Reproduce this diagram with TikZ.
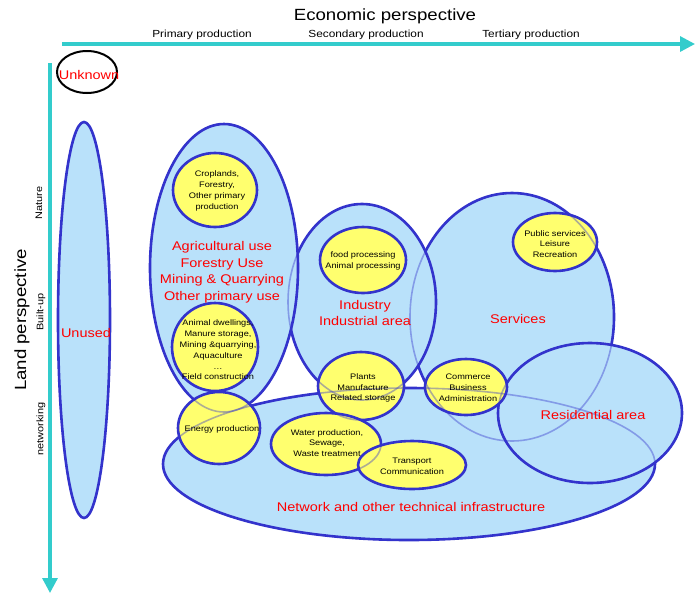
\documentclass[tikz,border=0pt]{standalone}
\usepackage{fontspec}
\setmainfont{Liberation Sans}[FakeStretch=1.15]
\usetikzlibrary{arrows.meta}

\definecolor{axisteal}{RGB}{51,204,204}
\definecolor{rimblue}{RGB}{51,51,204}
\definecolor{areablue}{RGB}{185,225,250}
\definecolor{partyellow}{RGB}{255,255,110}

\tikzset{
  zone/.style={fill=areablue, draw=rimblue, line width=2.6pt},
  part/.style={fill=partyellow, draw=rimblue, line width=2.6pt},
  ghost/.style={draw=rimblue, draw opacity=0.4, line width=1.6pt},
  axisline/.style={draw=axisteal, line width=3.2pt, -{Triangle[length=15pt, width=15pt]}},
  redtext/.style={text=red, align=center, inner sep=0pt, font=\fontsize{12.6}{16.5}\selectfont},
  small/.style={align=center, inner sep=0pt, font=\fontsize{8}{10.8}\selectfont},
  axislabel/.style={inner sep=0pt, font=\fontsize{10.3}{12}\selectfont},
  sidelabel/.style={inner sep=0pt, rotate=90, font=\fontsize{9.5}{11}\selectfont},
  bigtitle/.style={inner sep=0pt, font=\fontsize{16.2}{18}\selectfont},
}

% centre x / centre y / x radius / y radius (pixels of the sheet)
\def\zonelist{84/320/26/198, 512/317/102/124, 362/302/74/98, 224/268/74/144, 409/464/246/76, 590/413/92/70}
\def\partlist{215/190/42/37, 215/347/43/44, 219/428/41/36, 363/260/43/33, 361/386/43/34, 555/242/42/29, 466/387/41/28, 326/444/55/31, 412/465/54/24}

\begin{document}
\begin{tikzpicture}[x=1pt, y=-1pt]
  \useasboundingbox (0,0) rectangle (695,595);
  \fill[white] (0,0) rectangle (695,595);

  % axes
  \coordinate (econStart) at (62,44);
  \coordinate (econEnd) at (695,44);
  \coordinate (landStart) at (50,63);
  \coordinate (landEnd) at (50,593);
  \draw[axisline] (econStart) -- (econEnd);
  \draw[axisline] (landStart) -- (landEnd);

  % economic perspective
  \node[bigtitle] (econ) at (385,16) {Economic perspective};
  \node[axislabel] (primary) at (202,35) {Primary production};
  \node[axislabel] (secondary) at (366,35) {Secondary production};
  \node[axislabel] (tertiary) at (531,35) {Tertiary production};

  % land perspective
  \node[bigtitle, rotate=90] (land) at (22,320) {Land perspective};
  \node[sidelabel] (nature) at (39,203) {Nature};
  \node[sidelabel] (builtup) at (41,312) {Built-up};
  \node[sidelabel] (networking) at (41,429) {networking};

  % unknown
  \draw[black, line width=2pt] (87,72) ellipse (30pt and 21pt);
  \node[redtext] (unknown) at (89,75) {Unknown};

  % blue areas, then the yellow parts on top
  \foreach \cx/\cy/\rx/\ry in \zonelist
    \draw[zone] (\cx,\cy) ellipse (\rx pt and \ry pt);
  \foreach \cx/\cy/\rx/\ry in \partlist
    \draw[part] (\cx,\cy) ellipse (\rx pt and \ry pt);
  % borders seen through the fills
  \foreach \cx/\cy/\rx/\ry in \zonelist
    \draw[ghost] (\cx,\cy) ellipse (\rx pt and \ry pt);
  \foreach \cx/\cy/\rx/\ry in \partlist
    \draw[ghost] (\cx,\cy) ellipse (\rx pt and \ry pt);

  % area names
  \node[redtext] (unused) at (86,333) {Unused};
  \node[redtext] (agri) at (222,272) {Agricultural use\\Forestry Use\\Mining \& Quarrying\\Other primary use};
  \node[redtext] (industry) at (365,313) {Industry\\Industrial area};
  \node[redtext] (services) at (518,319) {Services};
  \node[redtext] (residential) at (593,415) {Residential area};
  \node[redtext] (network) at (411,507) {Network and other technical infrastructure};

  % part names
  \node[small] (croplands) at (217,191) {Croplands,\\Forestry,\\Other primary\\production};
  \node[small] (animal) at (218,350) {Animal dwellings,\\Manure storage,\\Mining \&quarrying,\\Aquaculture\\\dots\\Field construction};
  \node[small] (energy) at (222,429) {Energy production};
  \node[small] (food) at (363,261) {food processing\\Animal processing};
  \node[small] (plants) at (363,388) {Plants\\Manufacture\\Related storage};
  \node[small] (public) at (555,244) {Public services\\Leisure\\Recreation};
  \node[small] (commerce) at (468,388) {Commerce\\Business\\Administration};
  \node[small] (water) at (327,443) {Water production,\\Sewage,\\Waste treatment};
  \node[small] (transport) at (412,466) {Transport\\Communication};
\end{tikzpicture}
\end{document}
